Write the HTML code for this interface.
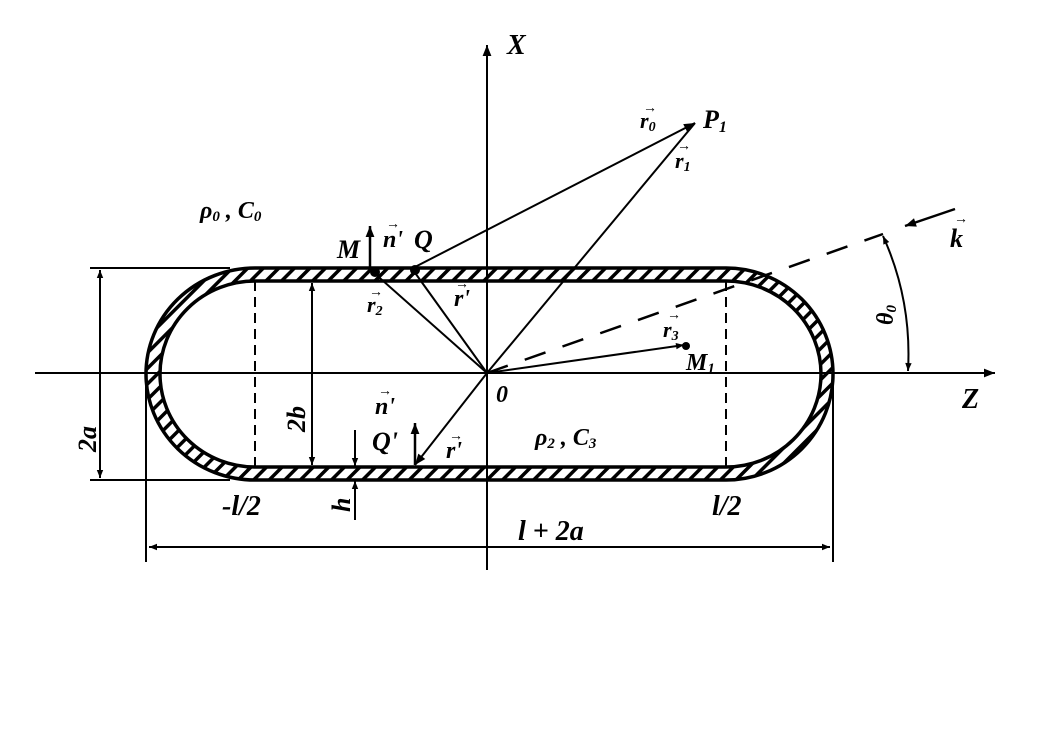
<!DOCTYPE html>
<html><head><meta charset="utf-8"><style>
html,body{margin:0;padding:0;background:#fff}
text{font-family:"Liberation Serif",serif;font-weight:bold;font-style:italic;fill:#000}
</style></head><body>
<svg width="1037" height="737" viewBox="0 0 1037 737" xmlns="http://www.w3.org/2000/svg">
<defs>
<pattern id="h" width="11" height="11" patternUnits="userSpaceOnUse" patternTransform="rotate(45)">
<rect width="11" height="11" fill="#fff"/><rect x="0" y="0" width="3.5" height="11" fill="#000"/>
</pattern>
<marker id="a" viewBox="0 0 10 10" refX="10" refY="5" markerWidth="14" markerHeight="8" orient="auto-start-reverse" markerUnits="userSpaceOnUse"><path d="M0,1 L10,5 L0,9 Z"/></marker>
<marker id="b" viewBox="0 0 10 10" refX="10" refY="5" markerWidth="18" markerHeight="11" orient="auto-start-reverse" markerUnits="userSpaceOnUse"><path d="M0,1 L10,5 L0,9 Z"/></marker>
</defs>
<g stroke="#000" fill="none">
<path fill-rule="evenodd" fill="url(#h)" stroke-width="3.5" d="M255,268 L726,268 A107,106 0 0 1 726,480 L255,480 A109,106 0 0 1 255,268 Z M255,281 L726,281 A95,93 0 0 1 726,467 L255,467 A95,93 0 0 1 255,281 Z"/>
<line x1="487" y1="570" x2="487" y2="45" stroke-width="2" marker-end="url(#b)"/>
<line x1="35" y1="373" x2="995" y2="373" stroke-width="2" marker-end="url(#b)"/>
<line x1="255" y1="281" x2="255" y2="467" stroke-width="2" stroke-dasharray="10,6"/>
<line x1="726" y1="281" x2="726" y2="467" stroke-width="2" stroke-dasharray="10,6"/>
<line x1="487" y1="373" x2="883" y2="234" stroke-width="2.5" stroke-dasharray="22,18"/>
<line x1="90" y1="268" x2="230" y2="268" stroke-width="2"/>
<line x1="90" y1="480" x2="230" y2="480" stroke-width="2"/>
<line x1="100" y1="270" x2="100" y2="478" stroke-width="2" marker-start="url(#a)" marker-end="url(#a)"/>
<line x1="312" y1="283" x2="312" y2="465" stroke-width="2" marker-start="url(#a)" marker-end="url(#a)"/>
<line x1="355" y1="430" x2="355" y2="466" stroke-width="2" marker-end="url(#a)"/>
<line x1="355" y1="520" x2="355" y2="481" stroke-width="2" marker-end="url(#a)"/>
<line x1="146" y1="373" x2="146" y2="562" stroke-width="2"/>
<line x1="833" y1="373" x2="833" y2="562" stroke-width="2"/>
<line x1="149" y1="547" x2="830" y2="547" stroke-width="2" marker-start="url(#a)" marker-end="url(#a)"/>
<line x1="413" y1="268" x2="695" y2="123" stroke-width="2" marker-end="url(#b)"/>
<line x1="487" y1="373" x2="695" y2="123" stroke-width="2"/>
<line x1="487" y1="373" x2="413" y2="270" stroke-width="2"/>
<line x1="487" y1="373" x2="373" y2="272" stroke-width="2"/>
<line x1="487" y1="373" x2="684" y2="345" stroke-width="2" marker-end="url(#a)"/>
<line x1="487" y1="373" x2="415" y2="465" stroke-width="2" marker-end="url(#b)"/>
<line x1="370" y1="268" x2="370" y2="226" stroke-width="2.5" marker-end="url(#b)"/>
<line x1="415" y1="465" x2="415" y2="423" stroke-width="2.5" marker-end="url(#b)"/>
<path d="M883,236 Q912,300 908,371" stroke-width="2" marker-start="url(#a)" marker-end="url(#a)"/>
<line x1="955" y1="209" x2="905" y2="226" stroke-width="2.5" marker-end="url(#b)"/>
</g>
<circle cx="375" cy="272" r="5"/><circle cx="415" cy="270" r="5"/><circle cx="686" cy="346" r="4"/>
<text x="507" y="54" font-size="28">X</text>
<text x="962" y="408" font-size="28">Z</text>
<text x="496" y="402" font-size="24">0</text>
<text x="703" y="128" font-size="26">P<tspan font-size="16" dy="4">1</tspan></text>
<text x="640" y="128" font-size="22">r<tspan font-size="14" dy="3">0</tspan></text>
<text x="675" y="168" font-size="22">r<tspan font-size="14" dy="3">1</tspan></text>
<text x="950" y="247" font-size="26">k</text>
<text x="200" y="218" font-size="24">ρ<tspan font-size="15" dy="3">0</tspan><tspan dy="-3"> , C</tspan><tspan font-size="15" dy="3">0</tspan></text>
<text x="535" y="445" font-size="24">ρ<tspan font-size="15" dy="3">2</tspan><tspan dy="-3"> , C</tspan><tspan font-size="15" dy="3">3</tspan></text>
<text x="337" y="258" font-size="26">M</text>
<text x="383" y="247" font-size="24">n'</text>
<text x="414" y="248" font-size="26">Q</text>
<text x="367" y="312" font-size="22">r<tspan font-size="14" dy="3">2</tspan></text>
<text x="454" y="306" font-size="24">r'</text>
<text x="663" y="337" font-size="22">r<tspan font-size="14" dy="3">3</tspan></text>
<text x="686" y="370" font-size="24">M<tspan font-size="15" dy="3">1</tspan></text>
<text x="375" y="414" font-size="24">n'</text>
<text x="372" y="450" font-size="26">Q'</text>
<text x="446" y="458" font-size="24">r'</text>
<text x="222" y="515" font-size="28">-l/2</text>
<text x="712" y="515" font-size="28">l/2</text>
<text x="518" y="540" font-size="28">l + 2a</text>
<text transform="translate(96,452) rotate(-90)" font-size="26">2a</text>
<text transform="translate(305,432) rotate(-90)" font-size="26">2b</text>
<text transform="translate(350,512) rotate(-90)" font-size="26">h</text>
<text transform="translate(893,325) rotate(-90)" font-size="24">θ<tspan font-size="15" dy="3">0</tspan></text>
<g font-size="14" font-family="Liberation Sans">
<text x="643" y="112" style="font-style:normal">→</text><text x="677" y="150" style="font-style:normal">→</text>
<text x="954" y="223" style="font-style:normal">→</text><text x="386" y="228" style="font-style:normal">→</text>
<text x="369" y="296" style="font-style:normal">→</text><text x="455" y="288" style="font-style:normal">→</text>
<text x="667" y="319" style="font-style:normal">→</text><text x="378" y="395" style="font-style:normal">→</text>
<text x="449" y="440" style="font-style:normal">→</text>
</g>
</svg>
</body></html>
